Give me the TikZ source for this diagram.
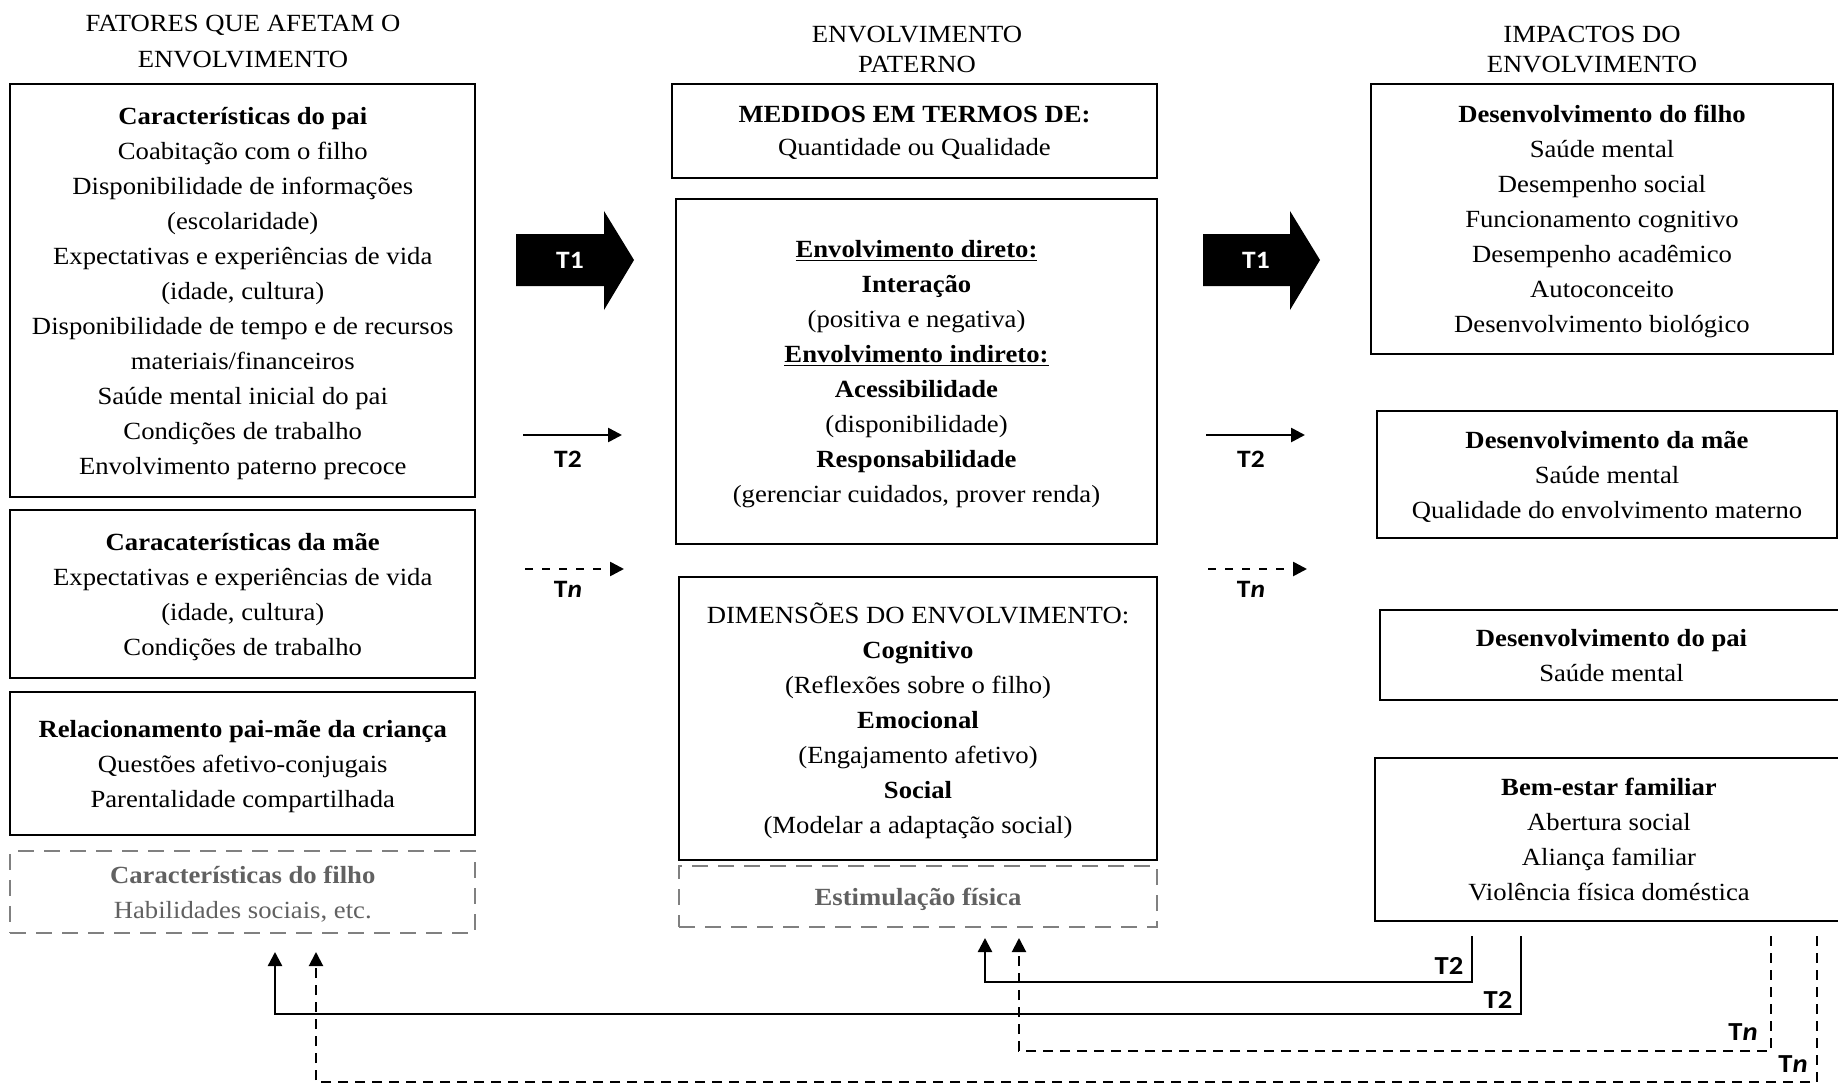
\documentclass[tikz,border=0pt]{standalone}
\usepackage{fontspec}
\setmainfont{Liberation Serif}[FakeStretch=1.08]
\newfontfamily\lblfont{Carlito}[FakeStretch=1.1]
\usetikzlibrary{arrows.meta}

\newcommand\txtsize{\fontsize{12.35}{17.5}\selectfont}

\begin{document}
\begin{tikzpicture}[x=0.5pt, y=-0.5pt,
    box/.style={draw, line width=1pt, align=center, inner sep=0pt, font=\txtsize, text depth=0pt},
    ghostbox/.style={box, draw=black!50, dash pattern=on 8pt off 5pt, text=black!62},
    coltitle/.style={align=center, font=\fontsize{12.35}{15.2}\selectfont},
    tlab/.style={font=\lblfont\fontsize{12.5}{14}\selectfont\bfseries},
    fblab/.style={font=\lblfont\fontsize{13}{15}\selectfont\bfseries},
    tip/.style={-{Triangle[length=7pt,width=7pt]}},
  ]
  \useasboundingbox (0,0) rectangle (1838,1086);

  % column titles
  \node[coltitle, font=\fontsize{12.35}{18}\selectfont] (ttlL) at (243,42) {FATORES QUE AFETAM O\\ENVOLVIMENTO};
  \node[coltitle] (ttlM) at (917,49.5) {ENVOLVIMENTO\\PATERNO};
  \node[coltitle] (ttlR) at (1592,49.5) {IMPACTOS DO\\ENVOLVIMENTO};

  % left column: factors
  \node[box, minimum width=232.3pt, minimum height=206.5pt] (paiL) at (242.75,290.5)
    {\textbf{Características do pai}\\Coabitação com o filho\\Disponibilidade de informações\\(escolaridade)\\Expectativas e experiências de vida\\(idade, cultura)\\Disponibilidade de tempo e de recursos\\materiais/financeiros\\Saúde mental inicial do pai\\Condições de trabalho\\Envolvimento paterno precoce};
  \node[box, minimum width=232.3pt, minimum height=84pt] (maeL) at (242.75,594)
    {\textbf{Caracaterísticas da mãe}\\Expectativas e experiências de vida\\(idade, cultura)\\Condições de trabalho};
  \node[box, minimum width=232.3pt, minimum height=71.5pt] (relL) at (242.75,763.5)
    {\textbf{Relacionamento pai-mãe da criança}\\Questões afetivo-conjugais\\Parentalidade compartilhada};
  \node[ghostbox, minimum width=232.3pt, minimum height=41pt] (filhoL) at (242.75,892)
    {\textbf{Características do filho}\\Habilidades sociais, etc.};

  % middle column: paternal involvement
  \node[box, font=\fontsize{12.35}{16.4}\selectfont, minimum width=242.5pt, minimum height=47pt] (medidos) at (914.5,131)
    {\textbf{MEDIDOS EM TERMOS DE:}\\Quantidade ou Qualidade};
  \node[box, minimum width=240.5pt, minimum height=172.5pt] (direto) at (916.5,371.5)
    {\textbf{\underline{Envolvimento direto:}}\\\textbf{Interação}\\(positiva e negativa)\\\textbf{\underline{Envolvimento indireto:}}\\\textbf{Acessibilidade}\\(disponibilidade)\\\textbf{Responsabilidade}\\(gerenciar cuidados, prover renda)};
  \node[box, minimum width=239pt, minimum height=141.5pt] (dimens) at (918,718.5)
    {DIMENSÕES DO ENVOLVIMENTO:\\\textbf{Cognitivo}\\(Reflexões sobre o filho)\\\textbf{Emocional}\\(Engajamento afetivo)\\\textbf{Social}\\(Modelar a adaptação social)};
  \node[ghostbox, minimum width=239pt, minimum height=30.5pt] (estim) at (918,896.5)
    {\textbf{Estimulação física}};

  % right column: impacts
  \node[box, minimum width=231pt, minimum height=135pt] (filhoR) at (1602,219)
    {\textbf{Desenvolvimento do filho}\\Saúde mental\\Desempenho social\\Funcionamento cognitivo\\Desempenho acadêmico\\Autoconceito\\Desenvolvimento biológico};
  \node[box, minimum width=230pt, minimum height=63.5pt] (maeR) at (1607,474.5)
    {\textbf{Desenvolvimento da mãe}\\Saúde mental\\Qualidade do envolvimento materno};
  \node[box, minimum width=231.5pt, minimum height=45pt] (paiR) at (1611.5,655)
    {\textbf{Desenvolvimento do pai}\\Saúde mental};
  \node[box, minimum width=234pt, minimum height=81.5pt] (bemR) at (1609,839.5)
    {\textbf{Bem-estar familiar}\\Abertura social\\Aliança familiar\\Violência física doméstica};

  % draw block arrows T1
  \fill (516,234) -- (604,234) -- (604,211) -- (634,260) -- (604,310) -- (604,286) -- (516,286) -- cycle;
  \node[tlab, text=white] (t1L) at (570,260) {T1};
  \fill (1203,234) -- (1290,234) -- (1290,211) -- (1320,260) -- (1290,310) -- (1290,286) -- (1203,286) -- cycle;
  \node[tlab, text=white] (t1R) at (1256,260) {T1};

  % draw T2 and Tn arrows
  \draw[tip, line width=1.3pt] (523,435) -- (622,435);
  \node[tlab] (t2L) at (568,459) {T2};
  \draw[tip, line width=1.3pt] (1206,435) -- (1305,435);
  \node[tlab] (t2R) at (1251,459) {T2};
  \draw[tip, line width=1.3pt, dash pattern=on 4pt off 4.5pt] (525,569) -- (624,569);
  \node[tlab] (tnL) at (568,589) {T\textit{n}};
  \draw[tip, line width=1.3pt, dash pattern=on 4pt off 4.5pt] (1208,569) -- (1307,569);
  \node[tlab] (tnR) at (1251,589) {T\textit{n}};

  % feedback loops
  \coordinate (fbA) at (1472,936);
  \coordinate (fbB) at (1521,936);
  \coordinate (fbC) at (1771,936);
  \coordinate (fbD) at (1817,936);
  \coordinate (tipA) at (985,938);
  \coordinate (tipB) at (275,952);
  \coordinate (tipC) at (1019,938);
  \coordinate (tipD) at (316,952);
  \draw[tip, line width=1.2pt] (fbA) |- ++(-487,46) -- (tipA);
  \draw[tip, line width=1.2pt] (fbB) |- ++(-1246,78) -- (tipB);
  \draw[tip, line width=1pt, dash pattern=on 5pt off 3.5pt] (fbC) |- ++(-752,115) -- (tipC);
  \draw[tip, line width=1pt, dash pattern=on 5pt off 3.5pt] (fbD) |- ++(-1501,146) -- (tipD);
  \node[fblab] (lbA) at (1449,966) {T2};
  \node[fblab] (lbB) at (1498,1000) {T2};
  \node[fblab] (lbC) at (1743,1032) {T\textit{n}};
  \node[fblab] (lbD) at (1793,1064) {T\textit{n}};
\end{tikzpicture}
\end{document}
